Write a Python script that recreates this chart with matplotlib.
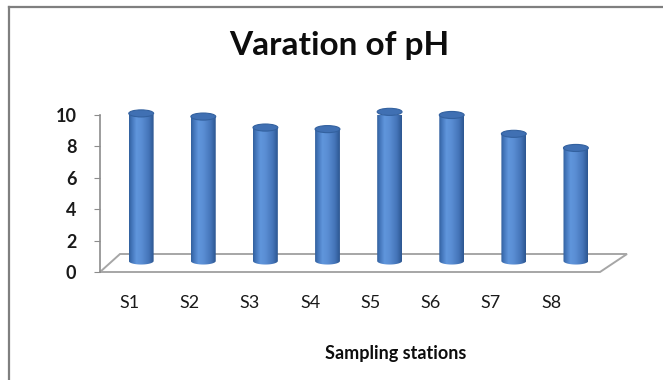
import numpy as np
import matplotlib
matplotlib.use('Agg')
import matplotlib.pyplot as plt
from matplotlib.patches import Ellipse, PathPatch, Polygon
from matplotlib.path import Path
from matplotlib.lines import Line2D
from matplotlib.transforms import Affine2D, IdentityTransform
from matplotlib.colors import LinearSegmentedColormap

# ---- data ----
stations = ['S1', 'S2', 'S3', 'S4', 'S5', 'S6', 'S7', 'S8']
ph_values = [9.4, 9.2, 8.5, 8.4, 9.5, 9.3, 8.1, 7.2]
y_ticks = [0, 2, 4, 6, 8, 10]
title = 'Varation of pH'
x_title = 'Sampling stations'

W, H = 663, 380
FONT = ['Lato', 'DejaVu Sans']
fig = plt.figure(figsize=(W / 100, H / 100), dpi=100)
fig.patch.set_facecolor('white')

# outer chart frame (left and top edges visible)
fig.add_artist(Line2D([9, 9], [0, H - 7], transform=IdentityTransform(), color='#7f7f7f', lw=1.6))
fig.add_artist(Line2D([9, W], [H - 7, H - 7], transform=IdentityTransform(), color='#7f7f7f', lw=1.6))

ax = fig.add_axes([100 / W, (H - 272) / H, 500 / W, 157 / H])
ax.patch.set_visible(False)

# floor of the 3-D plot
floor = Polygon([(100, H - 272), (600, H - 272), (627, H - 254), (120, H - 254)], closed=True,
                transform=IdentityTransform(), facecolor='white', edgecolor='#a6a6a6', lw=1.4,
                zorder=1, clip_on=False)
ax.add_artist(floor)

# perspective transforms (depth offset)
bar_trans = ax.transData + Affine2D().scale(0.9936, 1).translate(10.8, 11)
lab_trans = ax.transData + Affine2D().scale(0.9648, 1).translate(2.6, 0)

cmap = LinearSegmentedColormap.from_list('cyl', [
    (0.0, '#31609c'), (0.12, '#4476bb'), (0.3, '#6096dc'), (0.5, '#5a8ed4'),
    (0.8, '#4474b8'), (1.0, '#2c5690')])
grad = np.linspace(0, 1, 256).reshape(1, -1)

w = 0.40
h = 0.45
for i, v in enumerate(ph_values):
    t = np.linspace(np.pi, 2 * np.pi, 40)
    xs = np.concatenate([[i - w / 2], i + w / 2 * np.cos(t), [i + w / 2, i - w / 2]])
    ys = np.concatenate([[v], h / 2 * np.sin(t), [v, v]])
    path = Path(np.column_stack([xs, ys]), closed=True)
    body = PathPatch(path, transform=bar_trans, facecolor='none', edgecolor='none')
    im = ax.imshow(grad, extent=(i - w / 2, i + w / 2, -h / 2, v), aspect='auto',
                   cmap=cmap, transform=bar_trans, zorder=3, interpolation='bilinear')
    im.set_clip_path(body)
    im.set_clip_box(None)
    ax.add_patch(Ellipse((i, v), w, h, transform=bar_trans, facecolor='#4070b3',
                         edgecolor='#33619f', lw=0.8, zorder=4, clip_on=False))
    ax.text(i, -1.97, stations[i], transform=lab_trans, ha='center', va='center',
            fontsize=13, family=FONT, color='#1a1a1a', clip_on=False)

ax.set_xlim(-0.5, len(stations) - 0.5)
ax.set_ylim(0, 10)
ax.set_xticks([])
ax.set_yticks(y_ticks)
ax.set_yticklabels([str(t) for t in y_ticks], family=FONT, fontweight='bold', fontsize=13, color='#1a1a1a')
ax.tick_params(axis='y', length=4, color='#8c8c8c', pad=13)
for s in ['top', 'right', 'bottom']:
    ax.spines[s].set_visible(False)
ax.spines['left'].set_color('#8c8c8c')
ax.spines['left'].set_linewidth(1.2)

fig.text(339.5 / W, 1 - 46 / H, title, ha='center', va='center', fontsize=24,
         fontweight='bold', family=FONT, color='#0d0d0d')
fig.text(395.5 / W, 1 - 353 / H, x_title, ha='center', va='center', fontsize=13,
         fontweight='bold', family=FONT, color='#0d0d0d')

fig.savefig('out.png', dpi=100, facecolor='white')
